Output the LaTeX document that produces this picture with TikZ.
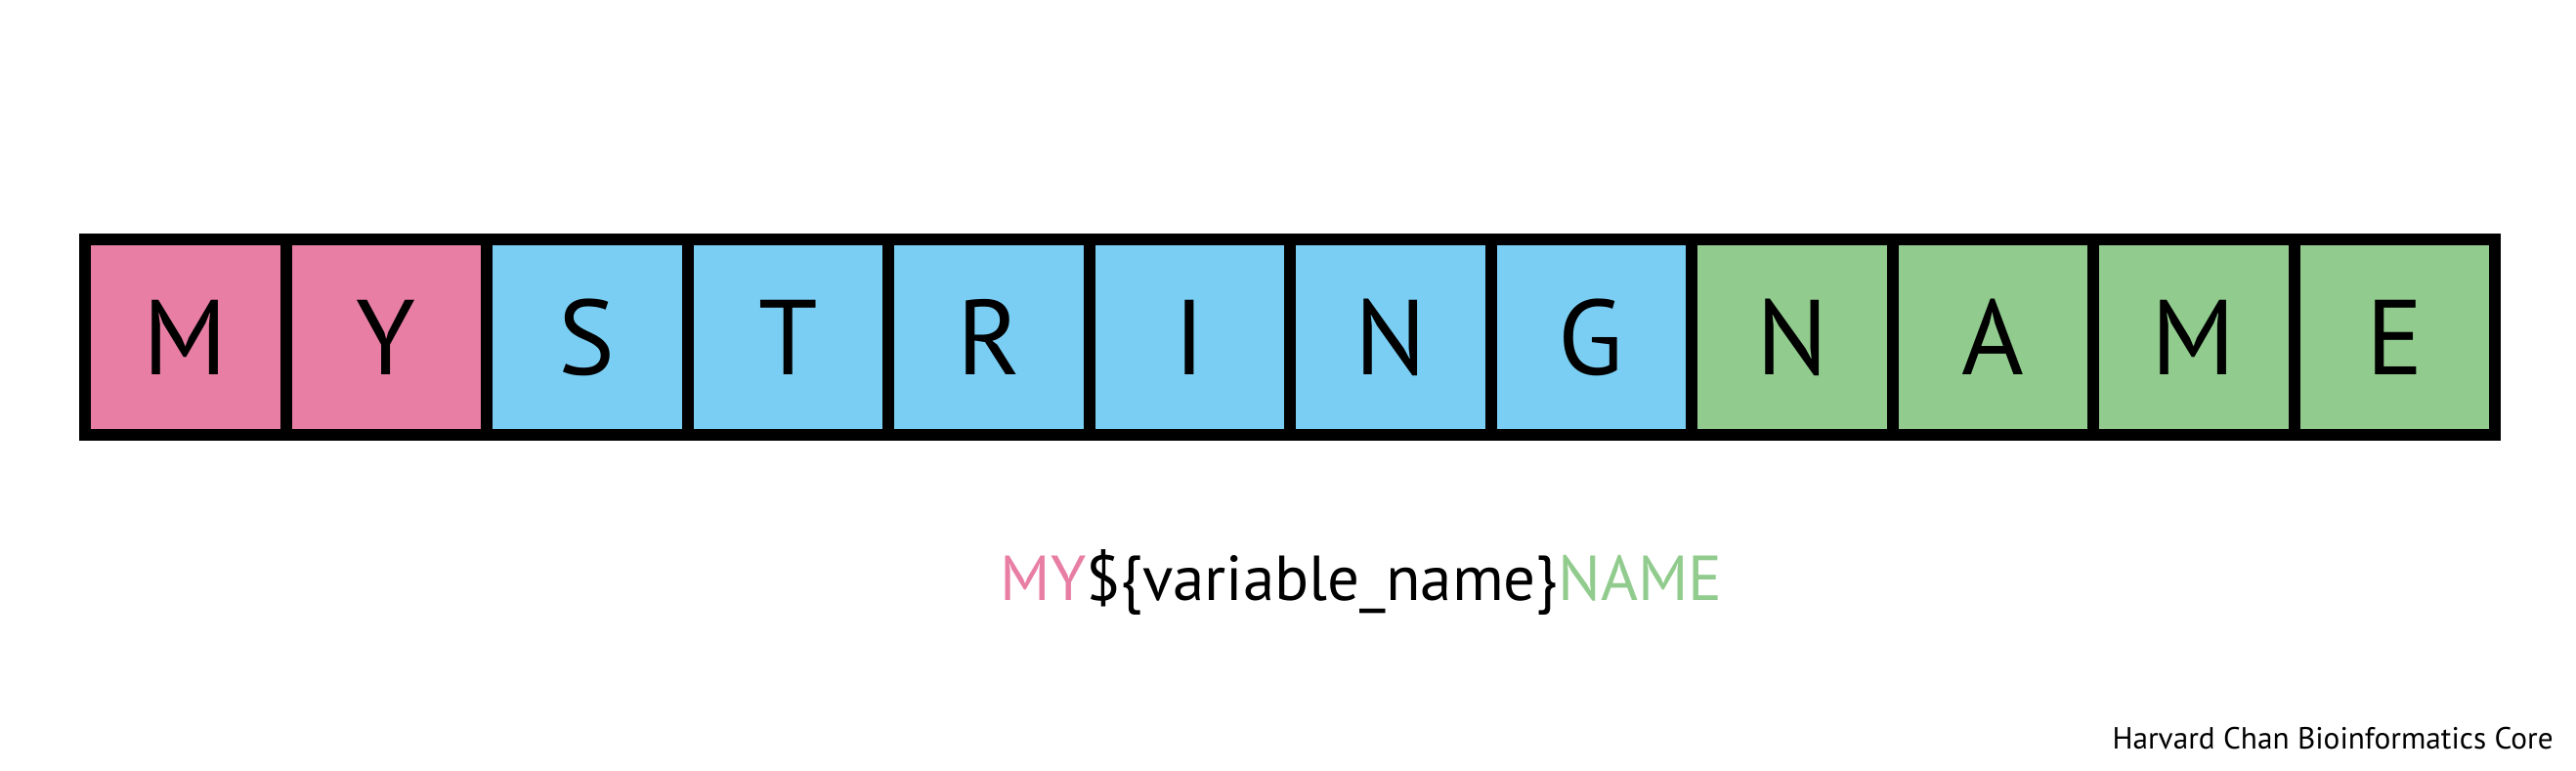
\documentclass[tikz,border=0pt]{standalone}
\usepackage{xcolor}
\usepackage{fontspec}
\setmainfont{PT Sans}
\usepackage{tikz}
\definecolor{SNPink}{HTML}{E87EA4}
\definecolor{SNBlue}{HTML}{7ACEF3}
\definecolor{SNGreen}{HTML}{91CC8E}

\tikzset{
  cell/.style={draw=black,line width=0.12cm,inner sep=0pt,outer sep=0pt,
    minimum width=2.055cm,minimum height=2.0cm,
    font=\fontsize{31}{36}\selectfont}
}

\begin{document}
\begin{tikzpicture}[x=1cm,y=1cm]
\path[use as bounding box] (0,0) rectangle (26.36,7.89);
\fill[white] (0,0) rectangle (26.36,7.89);
% the string, one cell per letter
\foreach \ch/\col [count=\i] in {M/SNPink,Y/SNPink,S/SNBlue,T/SNBlue,R/SNBlue,I/SNBlue,N/SNBlue,G/SNBlue,N/SNGreen,A/SNGreen,M/SNGreen,E/SNGreen}
  \node[cell,fill=\col] (c\i) at ({1.8975+(\i-1)*2.055},4.44) {\ch};
% variable expansion
\node[anchor=base,font=\fontsize{18.5}{22}\selectfont] (expr) at (13.93,1.74)
  {\textcolor{SNPink}{MY}\$\{variable\_name\}\textcolor{SNGreen}{NAME}};
\node[anchor=base east,font=\fontsize{8.9}{11}\selectfont] (credit) at (26.25,0.22)
  {Harvard Chan Bioinformatics Core};
\end{tikzpicture}
\end{document}
